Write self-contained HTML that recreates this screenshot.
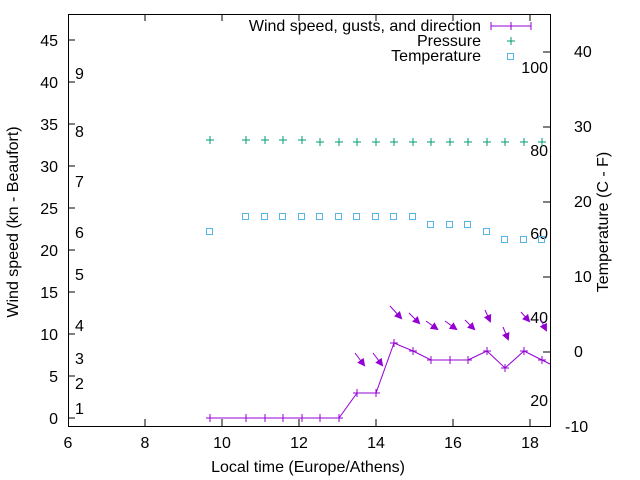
<!DOCTYPE html><html><head><style>body{margin:0;background:#fff}svg{display:block}text{font-family:"Liberation Sans",sans-serif;font-size:16px;fill:#000}</style></head><body>
<svg width="640" height="480" xmlns="http://www.w3.org/2000/svg">
<defs><marker id="ah" markerWidth="8" markerHeight="8" refX="6" refY="4" orient="auto" markerUnits="userSpaceOnUse"><path d="M0,0 L8,4 L0,8 z" fill="#9400d3"/></marker></defs>
<rect x="68.5" y="14.5" width="482" height="412" fill="none" stroke="#000"/>
<g stroke="#000">
<line x1="68" y1="418" x2="75" y2="418"/><line x1="68" y1="376" x2="75" y2="376"/><line x1="68" y1="334" x2="75" y2="334"/><line x1="68" y1="292" x2="75" y2="292"/><line x1="68" y1="250" x2="75" y2="250"/><line x1="68" y1="208" x2="75" y2="208"/><line x1="68" y1="166" x2="75" y2="166"/><line x1="68" y1="124" x2="75" y2="124"/><line x1="68" y1="82" x2="75" y2="82"/><line x1="68" y1="40" x2="75" y2="40"/>
<line x1="145" y1="426" x2="145" y2="419"/><line x1="222" y1="426" x2="222" y2="419"/><line x1="299" y1="426" x2="299" y2="419"/><line x1="376" y1="426" x2="376" y2="419"/><line x1="453" y1="426" x2="453" y2="419"/><line x1="530" y1="426" x2="530" y2="419"/>
<line x1="145" y1="14" x2="145" y2="21"/><line x1="222" y1="14" x2="222" y2="21"/><line x1="299" y1="14" x2="299" y2="21"/><line x1="376" y1="14" x2="376" y2="21"/><line x1="453" y1="14" x2="453" y2="21"/><line x1="530" y1="14" x2="530" y2="21"/>
<line x1="550" y1="52" x2="543" y2="52"/><line x1="550" y1="127" x2="543" y2="127"/><line x1="550" y1="202" x2="543" y2="202"/><line x1="550" y1="277" x2="543" y2="277"/><line x1="550" y1="352" x2="543" y2="352"/>
</g>
<g text-anchor="end">
<text x="58" y="424">0</text><text x="58" y="382">5</text><text x="58" y="340">10</text><text x="58" y="298">15</text><text x="58" y="256">20</text><text x="58" y="214">25</text><text x="58" y="172">30</text><text x="58" y="130">35</text><text x="58" y="88">40</text><text x="58" y="46">45</text>
</g>
<g text-anchor="middle">
<text x="68" y="448">6</text><text x="145" y="448">8</text><text x="222" y="448">10</text><text x="299" y="448">12</text><text x="376" y="448">14</text><text x="453" y="448">16</text><text x="530" y="448">18</text>
<text x="308" y="472">Local time (Europe/Athens)</text>
</g>
<g>
<text x="565" y="432">-10</text><text x="574" y="357">0</text><text x="574" y="282">10</text><text x="574" y="207">20</text><text x="574" y="132">30</text><text x="574" y="57">40</text>
</g>
<text transform="translate(18,222) rotate(-90)" text-anchor="middle">Wind speed (kn - Beaufort)</text>
<text transform="translate(608,222) rotate(-90)" text-anchor="middle">Temperature (C - F)</text>
<g><text x="75" y="414">1</text><text x="75" y="389">2</text><text x="75" y="364">3</text><text x="75" y="331">4</text><text x="75" y="280">5</text><text x="75" y="238">6</text><text x="75" y="187">7</text><text x="75" y="137">8</text><text x="75" y="79">9</text></g>
<g text-anchor="end"><text x="548" y="73">100</text><text x="548" y="156">80</text><text x="548" y="239">60</text><text x="548" y="323">40</text><text x="548" y="406">20</text></g>
<g text-anchor="end"><text x="481" y="31">Wind speed, gusts, and direction</text><text x="481" y="46">Pressure</text><text x="481" y="61">Temperature</text></g>
<g stroke="#9400d3" fill="none">
<line x1="491" y1="26" x2="531" y2="26"/><line x1="491" y1="22" x2="491" y2="30"/><line x1="531" y1="22" x2="531" y2="30"/><line x1="511" y1="22" x2="511" y2="30"/>
<polyline points="210,418 246,418 265,418 283,418 302,418 320,418 339,418 357,393 376,393 394,343 413,351 431,360 450,360 468,360 487,351 505,368 524,351 542,360 550,364"/>
<path d="M206,418h8M210,414v8M242,418h8M246,414v8M261,418h8M265,414v8M279,418h8M283,414v8M298,418h8M302,414v8M316,418h8M320,414v8M335,418h8M339,414v8M353,393h8M357,389v8M372,393h8M376,389v8M390,343h8M394,339v8M409,351h8M413,347v8M427,360h8M431,356v8M446,360h8M450,356v8M464,360h8M468,356v8M483,351h8M487,347v8M501,368h8M505,364v8M520,351h8M524,347v8M538,360h8M542,356v8"/>
<g marker-end="url(#ah)">
<line x1="355" y1="353" x2="364" y2="365"/><line x1="373" y1="353" x2="382" y2="365"/><line x1="390" y1="306" x2="401" y2="318"/><line x1="409" y1="313" x2="419" y2="323"/><line x1="426" y1="321" x2="437" y2="329"/><line x1="445" y1="321" x2="456" y2="329"/><line x1="465" y1="320" x2="474" y2="329"/><line x1="485" y1="310" x2="490" y2="321"/><line x1="503" y1="327" x2="508" y2="339"/><line x1="521" y1="312" x2="529" y2="321"/><line x1="541" y1="320" x2="546" y2="330"/>
</g>
</g>
<g stroke="#009e73"><path d="M507,41h8M511,37v8M206,140h8M210,136v8M242,140h8M246,136v8M261,140h8M265,136v8M279,140h8M283,136v8M298,140h8M302,136v8M316,142h8M320,138v8M335,142h8M339,138v8M353,142h8M357,138v8M372,142h8M376,138v8M390,142h8M394,138v8M409,142h8M413,138v8M427,142h8M431,138v8M446,142h8M450,138v8M464,142h8M468,138v8M483,142h8M487,138v8M501,142h8M505,138v8M520,142h8M524,138v8M538,142h8M542,138v8"/></g>
<g stroke="#56b4e9" fill="none">
<rect x="507.5" y="53.5" width="6" height="6"/>
<rect x="206.5" y="228.5" width="6" height="6"/><rect x="242.5" y="213.5" width="6" height="6"/><rect x="261.5" y="213.5" width="6" height="6"/><rect x="279.5" y="213.5" width="6" height="6"/><rect x="298.5" y="213.5" width="6" height="6"/><rect x="316.5" y="213.5" width="6" height="6"/><rect x="335.5" y="213.5" width="6" height="6"/><rect x="353.5" y="213.5" width="6" height="6"/><rect x="372.5" y="213.5" width="6" height="6"/><rect x="390.5" y="213.5" width="6" height="6"/><rect x="409.5" y="213.5" width="6" height="6"/><rect x="427.5" y="221.5" width="6" height="6"/><rect x="446.5" y="221.5" width="6" height="6"/><rect x="464.5" y="221.5" width="6" height="6"/><rect x="483.5" y="228.5" width="6" height="6"/><rect x="501.5" y="236.5" width="6" height="6"/><rect x="520.5" y="236.5" width="6" height="6"/><rect x="538.5" y="236.5" width="6" height="6"/>
</g>
</svg></body></html>
